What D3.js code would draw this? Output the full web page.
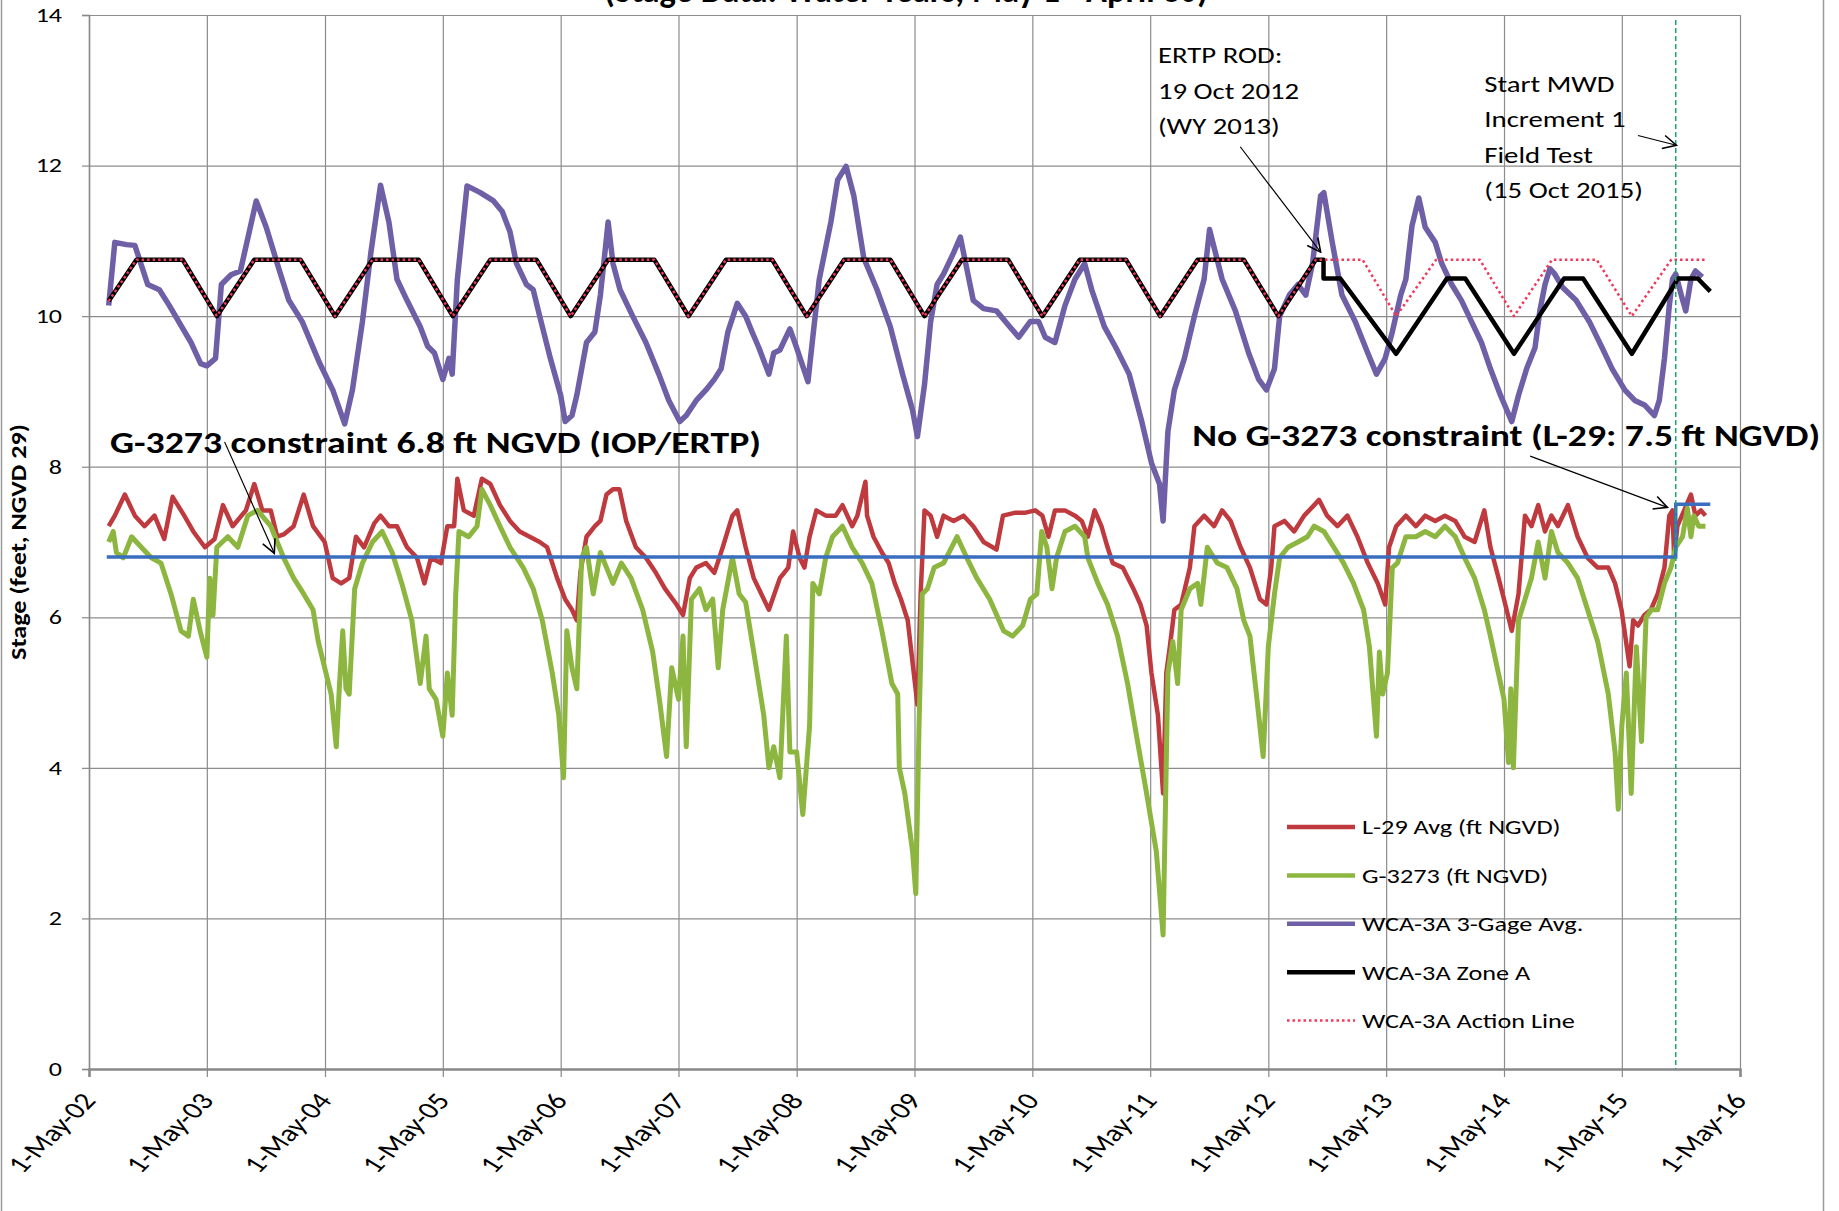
<!DOCTYPE html>
<html>
<head>
<meta charset="utf-8">
<script src="https://cdn.jsdelivr.net/npm/d3@7"></script>
<style>
body { margin: 0; background: #fff; }
text { font-family: Carlito, Calibri, Lato, sans-serif; }
</style>
</head>
<body>
<script>
// tick labels
var xTicks = ['2002-05-01','2003-05-01','2004-05-01','2005-05-01','2006-05-01','2007-05-01','2008-05-01',
	'2009-05-01','2010-05-01','2011-05-01','2012-05-01','2013-05-01','2014-05-01','2015-05-01','2016-05-01'];
var yTicks = [0, 2, 4, 6, 8, 10, 12, 14];

// L-29 average stage (ft NGVD)
var l29 = [['2002-07-01',7.21],['2002-07-20',7.35],['2002-08-20',7.63],['2002-09-20',7.35],['2002-10-20',7.21],['2002-11-20',7.35],['2002-12-20',7.04],['2003-01-15',7.6],['2003-02-20',7.35],['2003-03-20',7.14],['2003-04-25',6.93],['2003-05-25',7.04],['2003-06-20',7.49],['2003-07-20',7.21],['2003-08-30',7.42],['2003-09-25',7.77],['2003-10-20',7.42],['2003-11-15',7.42],['2003-12-05',7.07],['2003-12-25',7.1],['2004-01-25',7.21],['2004-02-25',7.63],['2004-03-25',7.21],['2004-04-30',7.0],['2004-05-25',6.52],['2004-06-20',6.45],['2004-07-15',6.52],['2004-08-05',7.07],['2004-08-30',6.93],['2004-10-01',7.25],['2004-10-20',7.35],['2004-11-15',7.21],['2004-12-10',7.21],['2005-01-10',6.93],['2005-02-10',6.79],['2005-03-05',6.45],['2005-03-25',6.79],['2005-04-25',6.72],['2005-05-15',7.21],['2005-06-05',7.21],['2005-06-15',7.84],['2005-07-05',7.42],['2005-08-05',7.35],['2005-08-30',7.84],['2005-09-25',7.77],['2005-10-25',7.49],['2005-11-25',7.28],['2005-12-25',7.14],['2006-01-25',7.07],['2006-02-25',7.0],['2006-03-20',6.93],['2006-04-20',6.52],['2006-05-15',6.24],['2006-06-05',6.1],['2006-06-20',5.96],['2006-07-01',6.59],['2006-07-20',7.07],['2006-08-15',7.21],['2006-09-01',7.28],['2006-09-20',7.63],['2006-10-10',7.7],['2006-10-30',7.7],['2006-11-20',7.28],['2006-12-20',6.93],['2007-01-20',6.79],['2007-02-20',6.59],['2007-03-20',6.38],['2007-04-25',6.17],['2007-05-15',6.03],['2007-06-05',6.52],['2007-06-25',6.66],['2007-07-25',6.72],['2007-08-20',6.59],['2007-09-15',6.93],['2007-10-15',7.35],['2007-10-30',7.42],['2007-11-25',6.93],['2007-12-20',6.52],['2008-02-05',6.1],['2008-03-10',6.52],['2008-04-05',6.66],['2008-04-20',7.14],['2008-05-10',6.79],['2008-05-25',6.66],['2008-06-10',7.07],['2008-07-01',7.42],['2008-07-30',7.35],['2008-08-30',7.35],['2008-09-20',7.49],['2008-10-20',7.21],['2008-11-05',7.35],['2008-11-30',7.8],['2008-12-05',7.35],['2008-12-25',7.07],['2009-01-20',6.86],['2009-02-10',6.72],['2009-03-01',6.45],['2009-03-20',6.24],['2009-04-10',5.96],['2009-04-25',5.4],['2009-05-10',4.84],['2009-05-20',6.31],['2009-06-01',7.42],['2009-06-20',7.35],['2009-07-10',7.07],['2009-07-30',7.35],['2009-08-30',7.28],['2009-09-30',7.35],['2009-10-30',7.21],['2009-12-01',7.0],['2010-01-10',6.9],['2010-01-30',7.35],['2010-03-10',7.39],['2010-04-10',7.39],['2010-05-10',7.42],['2010-06-01',7.35],['2010-06-20',7.07],['2010-07-10',7.42],['2010-08-10',7.42],['2010-09-10',7.35],['2010-10-01',7.28],['2010-10-20',7.07],['2010-11-10',7.42],['2010-12-01',7.21],['2010-12-20',6.93],['2011-01-05',6.72],['2011-02-05',6.66],['2011-03-10',6.38],['2011-04-01',6.17],['2011-04-20',5.89],['2011-05-05',5.26],['2011-05-25',4.7],['2011-06-10',3.66],['2011-06-20',5.26],['2011-07-01',5.61],['2011-07-15',6.1],['2011-08-05',6.17],['2011-09-01',6.66],['2011-09-15',7.21],['2011-10-15',7.35],['2011-11-15',7.21],['2011-12-10',7.42],['2012-01-05',7.28],['2012-02-05',6.93],['2012-03-05',6.66],['2012-04-05',6.24],['2012-04-25',6.17],['2012-05-10',6.66],['2012-05-20',7.21],['2012-06-20',7.28],['2012-07-20',7.14],['2012-08-20',7.35],['2012-09-20',7.49],['2012-10-05',7.56],['2012-10-30',7.35],['2012-12-01',7.21],['2013-01-01',7.35],['2013-02-01',7.07],['2013-03-05',6.72],['2013-04-05',6.45],['2013-04-28',6.17],['2013-05-10',6.93],['2013-06-01',7.21],['2013-07-01',7.35],['2013-08-01',7.21],['2013-08-30',7.35],['2013-09-30',7.28],['2013-10-30',7.35],['2013-12-01',7.28],['2013-12-30',7.07],['2014-01-30',7.0],['2014-03-01',7.42],['2014-03-20',6.93],['2014-04-10',6.59],['2014-05-01',6.24],['2014-05-25',5.82],['2014-06-15',6.31],['2014-07-05',7.35],['2014-07-25',7.21],['2014-08-15',7.49],['2014-09-05',7.14],['2014-09-25',7.35],['2014-10-15',7.21],['2014-11-15',7.49],['2014-12-15',7.07],['2015-01-15',6.79],['2015-02-15',6.66],['2015-03-20',6.66],['2015-04-10',6.45],['2015-04-30',6.1],['2015-05-25',5.35],['2015-06-05',5.96],['2015-06-20',5.89],['2015-07-10',6.03],['2015-07-30',6.1],['2015-08-20',6.31],['2015-09-10',6.66],['2015-09-25',7.35],['2015-10-05',7.42],['2015-10-10',6.79],['2015-10-20',7.21],['2015-11-10',7.42],['2015-12-01',7.63],['2015-12-15',7.35],['2016-01-01',7.42],['2016-01-15',7.35]];

// G-3273 stage (ft NGVD)
var g3273 = [['2002-07-01',7.0],['2002-07-15',7.14],['2002-07-25',6.86],['2002-08-15',6.79],['2002-09-10',7.07],['2002-10-10',6.93],['2002-11-10',6.79],['2002-12-10',6.72],['2003-01-10',6.31],['2003-02-10',5.82],['2003-03-05',5.75],['2003-03-20',6.24],['2003-04-10',5.82],['2003-05-01',5.47],['2003-05-10',6.52],['2003-05-20',6.03],['2003-06-01',6.93],['2003-07-05',7.07],['2003-08-05',6.93],['2003-09-05',7.35],['2003-10-05',7.42],['2003-11-15',7.21],['2003-12-25',6.79],['2004-01-25',6.52],['2004-02-25',6.31],['2004-03-25',6.1],['2004-04-10',5.68],['2004-04-30',5.33],['2004-05-20',4.98],['2004-06-05',4.28],['2004-06-15',5.12],['2004-06-25',5.82],['2004-07-05',5.05],['2004-07-15',4.98],['2004-08-01',6.38],['2004-08-25',6.72],['2004-09-25',7.0],['2004-10-25',7.14],['2004-11-25',6.86],['2004-12-25',6.45],['2005-01-25',5.96],['2005-02-20',5.12],['2005-03-10',5.75],['2005-03-20',5.05],['2005-04-10',4.91],['2005-05-01',4.42],['2005-05-15',5.26],['2005-05-30',4.7],['2005-06-10',6.31],['2005-06-20',7.14],['2005-07-20',7.07],['2005-08-15',7.21],['2005-08-30',7.7],['2005-09-25',7.49],['2005-10-25',7.21],['2005-11-25',6.93],['2006-01-05',6.66],['2006-02-05',6.38],['2006-03-05',5.96],['2006-04-05',5.26],['2006-04-25',4.7],['2006-05-10',3.87],['2006-05-20',5.82],['2006-06-05',5.33],['2006-06-20',5.05],['2006-07-05',6.79],['2006-07-20',6.93],['2006-08-10',6.31],['2006-09-01',6.86],['2006-09-20',6.66],['2006-10-10',6.45],['2006-11-05',6.72],['2006-12-05',6.52],['2007-01-10',6.1],['2007-02-10',5.54],['2007-03-05',4.84],['2007-03-25',4.15],['2007-04-10',5.33],['2007-05-01',4.91],['2007-05-15',5.75],['2007-05-25',4.28],['2007-06-10',6.24],['2007-07-05',6.38],['2007-07-25',6.1],['2007-08-15',6.24],['2007-09-01',5.33],['2007-09-15',6.1],['2007-10-15',6.79],['2007-11-05',6.31],['2007-11-25',6.2],['2007-12-20',5.54],['2008-01-20',4.7],['2008-02-05',4.0],['2008-02-20',4.28],['2008-03-10',3.87],['2008-03-30',5.75],['2008-04-10',4.21],['2008-05-01',4.21],['2008-05-20',3.38],['2008-06-10',4.56],['2008-06-20',6.45],['2008-07-10',6.31],['2008-07-30',6.79],['2008-08-20',7.07],['2008-09-20',7.21],['2008-10-20',6.93],['2008-11-20',6.72],['2008-12-20',6.45],['2009-01-20',5.82],['2009-02-20',5.12],['2009-03-10',4.98],['2009-03-15',4.0],['2009-04-01',3.66],['2009-04-25',2.89],['2009-05-05',2.33],['2009-05-15',4.56],['2009-05-25',6.31],['2009-06-10',6.38],['2009-07-01',6.66],['2009-07-30',6.72],['2009-09-10',7.07],['2009-10-10',6.79],['2009-11-10',6.52],['2009-12-20',6.24],['2010-02-01',5.82],['2010-03-01',5.75],['2010-04-01',5.89],['2010-04-25',6.24],['2010-05-15',6.31],['2010-05-30',7.14],['2010-06-15',6.93],['2010-07-01',6.38],['2010-07-15',6.79],['2010-08-10',7.14],['2010-09-10',7.21],['2010-10-10',7.07],['2010-10-20',6.79],['2010-11-20',6.45],['2010-12-20',6.17],['2011-01-20',5.75],['2011-02-20',5.12],['2011-03-20',4.42],['2011-04-20',3.66],['2011-05-20',2.89],['2011-06-10',1.78],['2011-06-25',5.26],['2011-07-10',5.68],['2011-07-25',5.12],['2011-08-05',6.1],['2011-09-01',6.38],['2011-09-25',6.45],['2011-10-05',6.17],['2011-10-25',6.93],['2011-11-25',6.72],['2011-12-25',6.66],['2012-01-25',6.38],['2012-02-15',5.96],['2012-03-05',5.75],['2012-03-25',4.98],['2012-04-15',4.15],['2012-05-01',5.61],['2012-05-20',6.31],['2012-06-05',6.79],['2012-07-01',6.93],['2012-08-01',7.0],['2012-08-30',7.07],['2012-09-20',7.21],['2012-10-20',7.14],['2012-11-20',6.93],['2012-12-20',6.72],['2013-01-20',6.45],['2013-02-20',6.1],['2013-03-10',5.61],['2013-04-01',4.42],['2013-04-10',5.54],['2013-04-20',4.98],['2013-05-05',5.26],['2013-05-20',6.66],['2013-06-05',6.72],['2013-07-01',7.07],['2013-08-01',7.07],['2013-08-30',7.14],['2013-09-30',7.07],['2013-10-30',7.21],['2013-12-01',7.07],['2013-12-30',6.79],['2014-01-30',6.52],['2014-03-01',6.1],['2014-03-20',5.75],['2014-04-10',5.33],['2014-05-01',4.91],['2014-05-15',4.07],['2014-05-22',5.05],['2014-05-30',4.0],['2014-06-15',5.96],['2014-07-05',6.24],['2014-07-25',6.52],['2014-08-15',7.0],['2014-09-05',6.52],['2014-09-25',7.14],['2014-10-15',6.86],['2014-11-15',6.72],['2014-12-15',6.52],['2015-01-15',6.1],['2015-02-15',5.68],['2015-03-20',4.98],['2015-04-10',4.21],['2015-04-20',3.45],['2015-05-01',4.56],['2015-05-15',5.26],['2015-05-30',3.66],['2015-06-15',5.61],['2015-07-01',4.35],['2015-07-15',6.0],['2015-08-01',6.1],['2015-08-20',6.1],['2015-09-10',6.45],['2015-09-30',6.66],['2015-10-15',6.93],['2015-11-05',7.07],['2015-11-20',7.45],['2015-12-01',7.07],['2015-12-10',7.35],['2015-12-25',7.21],['2016-01-15',7.21]];

// WCA-3A 3-gage average
var wca3a = [['2002-07-01',10.14],['2002-07-20',10.98],['2002-08-25',10.95],['2002-09-20',10.94],['2002-10-30',10.42],['2002-12-05',10.35],['2003-01-05',10.14],['2003-02-12',9.86],['2003-03-13',9.65],['2003-04-12',9.37],['2003-05-01',9.34],['2003-05-28',9.44],['2003-06-15',10.42],['2003-07-15',10.55],['2003-08-13',10.6],['2003-10-01',11.53],['2003-11-01',11.18],['2003-12-10',10.63],['2004-01-10',10.21],['2004-02-20',9.93],['2004-04-15',9.37],['2004-05-25',9.02],['2004-07-01',8.57],['2004-07-25',9.02],['2004-08-25',9.93],['2004-09-20',10.84],['2004-10-20',11.74],['2004-11-15',11.25],['2004-12-10',10.49],['2005-01-10',10.21],['2005-02-20',9.86],['2005-03-15',9.6],['2005-04-05',9.51],['2005-05-01',9.16],['2005-05-20',9.44],['2005-05-30',9.23],['2005-06-15',10.49],['2005-07-15',11.73],['2005-08-25',11.64],['2005-10-05',11.53],['2005-11-01',11.39],['2005-11-25',11.12],['2005-12-15',10.7],['2006-01-15',10.42],['2006-02-05',10.35],['2006-02-25',10.0],['2006-03-30',9.44],['2006-05-01',8.95],['2006-05-15',8.6],['2006-06-05',8.68],['2006-06-20',8.95],['2006-07-20',9.65],['2006-08-15',9.79],['2006-09-01',10.28],['2006-09-15',10.84],['2006-09-25',11.25],['2006-10-10',10.7],['2006-11-01',10.35],['2006-12-10',10.0],['2007-01-20',9.65],['2007-03-01',9.23],['2007-04-01',8.88],['2007-05-05',8.6],['2007-05-25',8.68],['2007-06-25',8.88],['2007-07-25',9.02],['2007-08-20',9.16],['2007-09-10',9.3],['2007-10-01',9.79],['2007-10-30',10.17],['2007-11-25',10.0],['2007-12-15',9.79],['2008-01-05',9.58],['2008-02-05',9.23],['2008-02-20',9.51],['2008-03-10',9.55],['2008-04-10',9.83],['2008-05-01',9.58],['2008-06-05',9.13],['2008-06-20',9.72],['2008-07-10',10.49],['2008-08-15',11.25],['2008-09-05',11.81],['2008-10-01',11.99],['2008-10-25',11.6],['2008-11-25',10.77],['2009-01-05',10.35],['2009-02-15',9.86],['2009-03-25',9.23],['2009-04-25',8.75],['2009-05-10',8.4],['2009-06-01',9.09],['2009-06-20',9.93],['2009-07-10',10.42],['2009-07-30',10.56],['2009-08-30',10.84],['2009-09-20',11.05],['2009-10-10',10.63],['2009-10-30',10.21],['2009-12-01',10.1],['2010-01-10',10.07],['2010-02-20',9.86],['2010-03-20',9.72],['2010-04-25',9.93],['2010-05-20',9.93],['2010-06-10',9.72],['2010-07-10',9.65],['2010-08-10',10.14],['2010-09-10',10.49],['2010-10-10',10.7],['2010-11-01',10.35],['2010-12-10',9.86],['2011-01-15',9.58],['2011-02-25',9.23],['2011-04-05',8.6],['2011-05-05',8.05],['2011-05-30',7.77],['2011-06-10',7.28],['2011-06-25',8.47],['2011-07-15',9.02],['2011-08-15',9.44],['2011-09-15',10.0],['2011-10-15',10.49],['2011-11-01',11.15],['2011-12-10',10.49],['2012-01-20',10.07],['2012-03-01',9.51],['2012-04-01',9.16],['2012-04-25',9.02],['2012-05-20',9.3],['2012-06-05',10.0],['2012-07-05',10.28],['2012-08-01',10.42],['2012-08-25',10.28],['2012-09-15',10.7],['2012-10-10',11.6],['2012-10-20',11.64],['2012-11-15',10.98],['2012-12-15',10.28],['2013-01-25',9.93],['2013-03-05',9.51],['2013-04-01',9.23],['2013-04-28',9.44],['2013-05-20',9.79],['2013-06-15',10.28],['2013-07-01',10.49],['2013-07-20',11.2],['2013-08-10',11.57],['2013-08-30',11.18],['2013-09-30',10.98],['2013-10-20',10.7],['2013-11-20',10.42],['2013-12-20',10.21],['2014-01-20',9.93],['2014-02-20',9.65],['2014-03-20',9.3],['2014-04-20',8.95],['2014-05-10',8.75],['2014-05-25',8.6],['2014-06-15',8.95],['2014-07-10',9.3],['2014-08-05',9.58],['2014-08-20',10.07],['2014-09-05',10.42],['2014-09-20',10.63],['2014-10-05',10.56],['2014-10-30',10.38],['2014-12-10',10.21],['2015-01-20',9.93],['2015-03-01',9.58],['2015-04-01',9.3],['2015-05-10',9.02],['2015-06-10',8.88],['2015-07-10',8.82],['2015-08-10',8.68],['2015-08-25',8.88],['2015-09-10',9.44],['2015-09-25',10.14],['2015-10-05',10.49],['2015-10-15',10.56],['2015-11-01',10.28],['2015-11-15',10.07],['2015-12-01',10.49],['2015-12-15',10.6],['2016-01-05',10.52]];

// WCA-3A Zone A regulation line (breakpoints)
var zoneA = [['2002-07-01',10.2],['2002-09-25',10.75],['2003-02-15',10.75],['2003-06-01',10.0],
	['2003-09-25',10.75],['2004-02-15',10.75],['2004-06-01',10.0],
	['2004-09-25',10.75],['2005-02-15',10.75],['2005-06-01',10.0],
	['2005-09-25',10.75],['2006-02-15',10.75],['2006-06-01',10.0],
	['2006-09-25',10.75],['2007-02-15',10.75],['2007-06-01',10.0],
	['2007-09-25',10.75],['2008-02-15',10.75],['2008-06-01',10.0],
	['2008-09-25',10.75],['2009-02-15',10.75],['2009-06-01',10.0],
	['2009-09-25',10.75],['2010-02-15',10.75],['2010-06-01',10.0],
	['2010-09-25',10.75],['2011-02-15',10.75],['2011-06-01',10.0],
	['2011-09-25',10.75],['2012-02-15',10.75],['2012-06-01',10.0],
	['2012-09-25',10.75],['2012-10-19',10.75],['2012-10-19',10.5],['2012-12-10',10.5],['2013-06-01',9.5],
	['2013-11-05',10.5],['2014-01-01',10.5],['2014-06-01',9.5],
	['2014-11-03',10.5],['2015-01-01',10.5],['2015-06-01',9.5],
	['2015-10-22',10.5],['2015-12-22',10.5],['2016-01-30',10.33]];

// WCA-3A Action Line (breakpoints)
var actionLine = [['2002-07-01',10.2],['2002-09-25',10.75],['2003-02-15',10.75],['2003-06-01',10.0],
	['2003-09-25',10.75],['2004-02-15',10.75],['2004-06-01',10.0],
	['2004-09-25',10.75],['2005-02-15',10.75],['2005-06-01',10.0],
	['2005-09-25',10.75],['2006-02-15',10.75],['2006-06-01',10.0],
	['2006-09-25',10.75],['2007-02-15',10.75],['2007-06-01',10.0],
	['2007-09-25',10.75],['2008-02-15',10.75],['2008-06-01',10.0],
	['2008-09-25',10.75],['2009-02-15',10.75],['2009-06-01',10.0],
	['2009-09-25',10.75],['2010-02-15',10.75],['2010-06-01',10.0],
	['2010-09-25',10.75],['2011-02-15',10.75],['2011-06-01',10.0],
	['2011-09-25',10.75],['2012-02-15',10.75],['2012-06-01',10.0],
	['2012-09-25',10.75],['2013-02-17',10.75],['2013-06-01',10.0],
	['2013-10-03',10.75],['2014-02-15',10.75],['2014-06-01',10.0],
	['2014-09-27',10.75],['2015-02-12',10.75],['2015-06-01',10.0],
	['2015-10-01',10.75],['2016-01-14',10.75]];

// G-3273 constraint (6.8, then L-29 at 7.5)
var constraint = [['2002-06-25',6.8],['2015-10-15',6.8],['2015-10-15',7.5],['2016-01-30',7.5]];
var mwdStart = '2015-10-15';

var width = 1839,
	height = 1211;
var plotLeft = 89, plotRight = 1740, plotTop = 15, plotBottom = 1069;
// the source picture is stretched sideways, so text is widened to match
var wide = 1.25;

var parse = d3.timeParse('%Y-%m-%d');
var fmt = d3.timeFormat('%-d-%b-%y');

var x = d3.scaleTime()
	.domain([parse(xTicks[0]), parse(xTicks[xTicks.length - 1])])
	.range([plotLeft, plotRight]);
var y = d3.scaleLinear()
	.domain([0, 14])
	.range([plotBottom, plotTop]);

var svg = d3.select('body')
	.append('svg')
	.attr('width', width)
	.attr('height', height);

// widen a text selection by the stretch factor
function stretch(sel, k) {
	sel.each(function() {
		var n = this.getComputedTextLength();
		d3.select(this).attr('textLength', n * k).attr('lengthAdjust', 'spacingAndGlyphs');
	});
}

var defs = svg.append('defs');
defs.append('marker')
	.attr('id', 'arrow')
	.attr('viewBox', '0 0 12 12')
	.attr('refX', 11)
	.attr('refY', 6)
	.attr('markerWidth', 16)
	.attr('markerHeight', 16)
	.attr('markerUnits', 'userSpaceOnUse')
	.attr('orient', 'auto')
	.append('path')
	.attr('d', 'M1,1 L11,6 L1,11')
	.attr('fill', 'none')
	.attr('stroke', '#000')
	.attr('stroke-width', 1.2);

// outer chart frame
svg.append('rect')
	.attr('x', 1.5).attr('y', -10)
	.attr('width', 1822).attr('height', 1240)
	.attr('fill', 'none')
	.attr('stroke', '#9a9a9a')
	.attr('stroke-width', 1.5);

// title, mostly cut off by the top edge
svg.append('text')
	.attr('x', 604).attr('y', 2)
	.attr('font-size', 36)
	.attr('font-weight', 'bold')
	.attr('textLength', 604)
	.attr('lengthAdjust', 'spacingAndGlyphs')
	.text('(Stage Data: Water Years, May 1 - April 30)');

// gridlines
svg.append('g')
	.attr('transform', 'translate(0,' + plotBottom + ')')
	.call(d3.axisBottom(x).tickValues(xTicks.map(parse)).tickSize(-(plotBottom - plotTop)).tickFormat(''))
	.call(function(g) {
		g.select('.domain').remove();
		g.selectAll('line').attr('stroke', '#8c8c8c').attr('stroke-width', 1.2);
	});
svg.append('g')
	.attr('transform', 'translate(' + plotLeft + ',0)')
	.call(d3.axisLeft(y).tickValues(yTicks).tickSize(-(plotRight - plotLeft)).tickFormat(''))
	.call(function(g) {
		g.select('.domain').remove();
		g.selectAll('line').attr('stroke', '#8c8c8c').attr('stroke-width', 1.2);
	});

// x axis: labels rotated, then widened (gives the sheared look)
svg.append('g')
	.attr('transform', 'translate(0,' + plotBottom + ')')
	.call(d3.axisBottom(x).tickValues(xTicks.map(parse)).tickSize(8).tickFormat(fmt))
	.call(function(g) {
		g.select('.domain').attr('stroke', '#888').attr('stroke-width', 2.5);
		g.selectAll('.tick line').attr('stroke', '#888').attr('stroke-width', 1.2);
		g.selectAll('.tick text')
			.attr('x', 0).attr('y', 0).attr('dy', '0.35em')
			.attr('transform', 'translate(-1,27) scale(1.3,1) rotate(-52)')
			.attr('text-anchor', 'end')
			.attr('font-size', 24)
			.attr('font-family', 'Carlito, Calibri, Lato, sans-serif')
			.attr('fill', '#000');
	});

// y axis
svg.append('g')
	.attr('transform', 'translate(' + plotLeft + ',0)')
	.call(d3.axisLeft(y).tickValues(yTicks).tickSize(7).tickPadding(20))
	.call(function(g) {
		g.select('.domain').attr('stroke', '#888').attr('stroke-width', 1.5);
		g.selectAll('.tick line').attr('stroke', '#888').attr('stroke-width', 1.2);
		g.selectAll('.tick text')
			.attr('font-size', 20)
			.attr('font-family', 'Carlito, Calibri, Lato, sans-serif')
			.attr('fill', '#000')
			.call(stretch, 1.3);
	});

svg.append('text')
	.attr('transform', 'translate(26,542) rotate(-90)')
	.attr('text-anchor', 'middle')
	.attr('font-size', 22)
	.attr('font-weight', 'bold')
	.attr('textLength', 236)
	.attr('lengthAdjust', 'spacingAndGlyphs')
	.text('Stage (feet, NGVD 29)');

// series
var line = d3.line()
	.x(function(d) { return x(parse(d[0])); })
	.y(function(d) { return y(d[1]); });

var series = [
	{ name: 'L-29 Avg (ft NGVD)', data: l29, color: '#bf3a3e', w: 4.5 },
	{ name: 'G-3273 (ft NGVD)', data: g3273, color: '#8db640', w: 5 },
	{ name: 'WCA-3A 3-Gage Avg.', data: wca3a, color: '#6e5fa6', w: 5.5 },
	{ name: 'WCA-3A Zone A', data: zoneA, color: '#000', w: 4.5 },
	{ name: 'WCA-3A Action Line', data: actionLine, color: '#f2385a', w: 2.5, dash: '2.5,3' }
];

series.forEach(function(s) {
	svg.append('path')
		.datum(s.data)
		.attr('d', line)
		.attr('fill', 'none')
		.attr('stroke', s.color)
		.attr('stroke-width', s.w)
		.attr('stroke-linejoin', 'round')
		.attr('stroke-dasharray', s.dash || null);
});

// constraint line (blue)
svg.append('path')
	.datum(constraint)
	.attr('d', line)
	.attr('fill', 'none')
	.attr('stroke', '#3a6ebf')
	.attr('stroke-width', 3.5);

// MWD field test start (green dashed vertical)
svg.append('line')
	.attr('x1', x(parse(mwdStart))).attr('x2', x(parse(mwdStart)))
	.attr('y1', 20).attr('y2', plotBottom)
	.attr('stroke', '#1aa56a')
	.attr('stroke-width', 1.5)
	.attr('stroke-dasharray', '5,3');

// legend
var legend = svg.append('g').attr('class', 'legend');
series.forEach(function(s, i) {
	var ly = 827 + i * 48.4;
	legend.append('line')
		.attr('x1', 1287).attr('x2', 1355)
		.attr('y1', ly).attr('y2', ly)
		.attr('stroke', s.color)
		.attr('stroke-width', s.dash ? 2.5 : 4.5)
		.attr('stroke-dasharray', s.dash || null);
	legend.append('text')
		.attr('x', 1362).attr('y', ly)
		.attr('dy', '0.35em')
		.attr('font-size', 21)
		.text(s.name)
		.call(stretch, wide);
});

// annotations (anchored in data coordinates)
function annot(lines, date, value, size, bold, len) {
	var t = svg.append('text')
		.attr('x', x(parse(date)))
		.attr('y', y(value))
		.attr('font-size', size)
		.attr('font-weight', bold ? 'bold' : 'normal');
	lines.forEach(function(l, i) {
		var ts = t.append('tspan')
			.attr('x', x(parse(date)))
			.attr('dy', i === 0 ? 0 : 35.5)
			.text(l);
		if (len) ts.attr('textLength', len).attr('lengthAdjust', 'spacingAndGlyphs');
		else ts.call(stretch, wide);
	});
}
function arrow(d0, v0, d1, v1) {
	svg.append('line')
		.attr('x1', x(parse(d0))).attr('y1', y(v0))
		.attr('x2', x(parse(d1))).attr('y2', y(v1))
		.attr('stroke', '#000')
		.attr('stroke-width', 1.2)
		.attr('marker-end', 'url(#arrow)');
}

annot(['ERTP ROD:', '19 Oct 2012', '(WY 2013)'], '2011-05-25', 13.36, 23, false);
arrow('2012-02-04', 12.25, '2012-10-10', 10.85);

annot(['Start MWD', 'Increment 1', 'Field Test', '(15 Oct 2015)'], '2014-03-01', 12.98, 23, false);
arrow('2015-06-20', 12.4, '2015-10-17', 12.27);

annot(['G-3273 constraint 6.8 ft NGVD (IOP/ERTP)'], '2002-07-05', 8.18, 31, true, 651);
arrow('2003-06-25', 8.33, '2003-11-26', 6.85);

annot(['No G-3273 constraint (L-29: 7.5 ft NGVD)'], '2011-09-08', 8.27, 31, true, 628);
arrow('2014-07-21', 8.14, '2015-09-19', 7.46);
</script>
</body>
</html>
